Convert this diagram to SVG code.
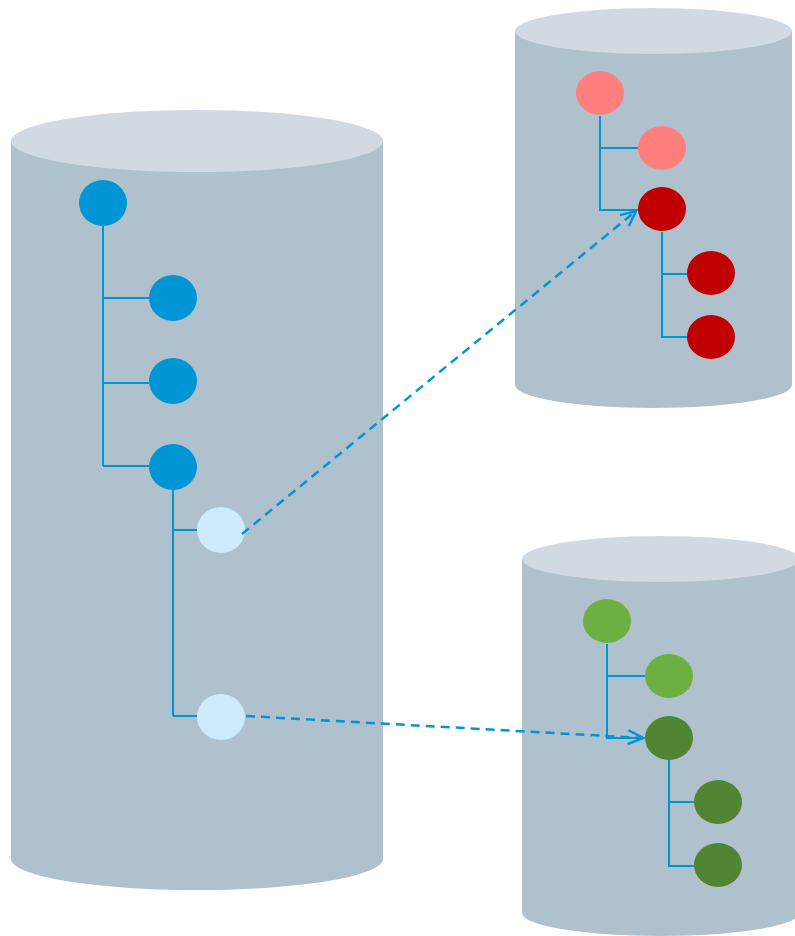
<svg xmlns="http://www.w3.org/2000/svg" width="795" height="936" viewBox="0 0 795 936">
<style>
.body{fill:#B0C1CE}
.top{fill:#D1DAE3}
.ln{stroke:#0096D6;stroke-width:2;fill:none}
.dash{stroke:#0096D6;stroke-width:2.5;fill:none;stroke-dasharray:9,6}
.blue{fill:#0096D6}
.lb{fill:#CDEBFB}
.pink{fill:#FF7F7F}
.red{fill:#C00000}
.lg{fill:#6DB041}
.dg{fill:#528533}
</style>
<defs>
<marker id="ah" viewBox="0 0 18 18" refX="17" refY="9" markerWidth="18" markerHeight="18" markerUnits="userSpaceOnUse" orient="auto">
<path d="M2,2 L17,9 L2,16" fill="none" stroke="#0096D6" stroke-width="2.5"/>
</marker>
</defs>
<g id="db-left">
<path class="body" d="M11,141 L11,859 A186,31 0 0 0 383,859 L383,141 Z"/>
<ellipse class="top" cx="197" cy="141" rx="186" ry="31"/>
</g>
<g id="db-top-right">
<path class="body" d="M515,31 L515,385 A138.5,23 0 0 0 792,385 L792,31 Z"/>
<ellipse class="top" cx="653.5" cy="31" rx="138.5" ry="23"/>
</g>
<g id="db-bottom-right">
<path class="body" d="M522,559 L522,913 A138.5,23 0 0 0 799,913 L799,559 Z"/>
<ellipse class="top" cx="660.5" cy="559" rx="138.5" ry="23"/>
</g>
<g id="tree-lines">
<path class="ln" d="M103,226 V466 M103,298 H149 M103,383 H149 M103,466 H149"/>
<path class="ln" d="M173,490 V716 M173,530 H197 M173,716 H197"/>
<path class="ln" d="M600,116 V210 H638 M600,148 H638"/>
<path class="ln" d="M662,232 V337 H687 M662,274 H687"/>
<path class="ln" d="M607,644 V738 H645 M607,676 H645"/>
<path class="ln" d="M669,760 V866 H694 M669,802 H694"/>
</g>
<g id="n-l0"><ellipse class="blue" cx="103" cy="203" rx="24" ry="23"/></g>
<g id="n-l1"><ellipse class="blue" cx="173" cy="298" rx="24" ry="23"/></g>
<g id="n-l2"><ellipse class="blue" cx="173" cy="381" rx="24" ry="23"/></g>
<g id="n-l3"><ellipse class="blue" cx="173" cy="467" rx="24" ry="23"/></g>
<g id="n-l4"><ellipse class="lb" cx="221" cy="530" rx="24" ry="23"/></g>
<g id="n-l5"><ellipse class="lb" cx="221" cy="717" rx="24" ry="23"/></g>
<g id="n-r0"><ellipse class="pink" cx="600" cy="93" rx="24" ry="22"/></g>
<g id="n-r1"><ellipse class="pink" cx="662" cy="148" rx="24" ry="22"/></g>
<g id="n-r2"><ellipse class="red" cx="662" cy="209" rx="24" ry="22"/></g>
<g id="n-r3"><ellipse class="red" cx="711" cy="273" rx="24" ry="22"/></g>
<g id="n-r4"><ellipse class="red" cx="711" cy="337" rx="24" ry="22"/></g>
<g id="n-g0"><ellipse class="lg" cx="607" cy="621" rx="24" ry="22"/></g>
<g id="n-g1"><ellipse class="lg" cx="669" cy="676" rx="24" ry="22"/></g>
<g id="n-g2"><ellipse class="dg" cx="669" cy="738" rx="24" ry="22"/></g>
<g id="n-g3"><ellipse class="dg" cx="718" cy="802" rx="24" ry="22"/></g>
<g id="n-g4"><ellipse class="dg" cx="718" cy="865" rx="24" ry="22"/></g>
<g id="connectors">
<path class="dash" d="M242,534 L636,211" marker-end="url(#ah)"/>
<path class="dash" d="M246,716 L643,738" marker-end="url(#ah)"/>
</g>
</svg>
